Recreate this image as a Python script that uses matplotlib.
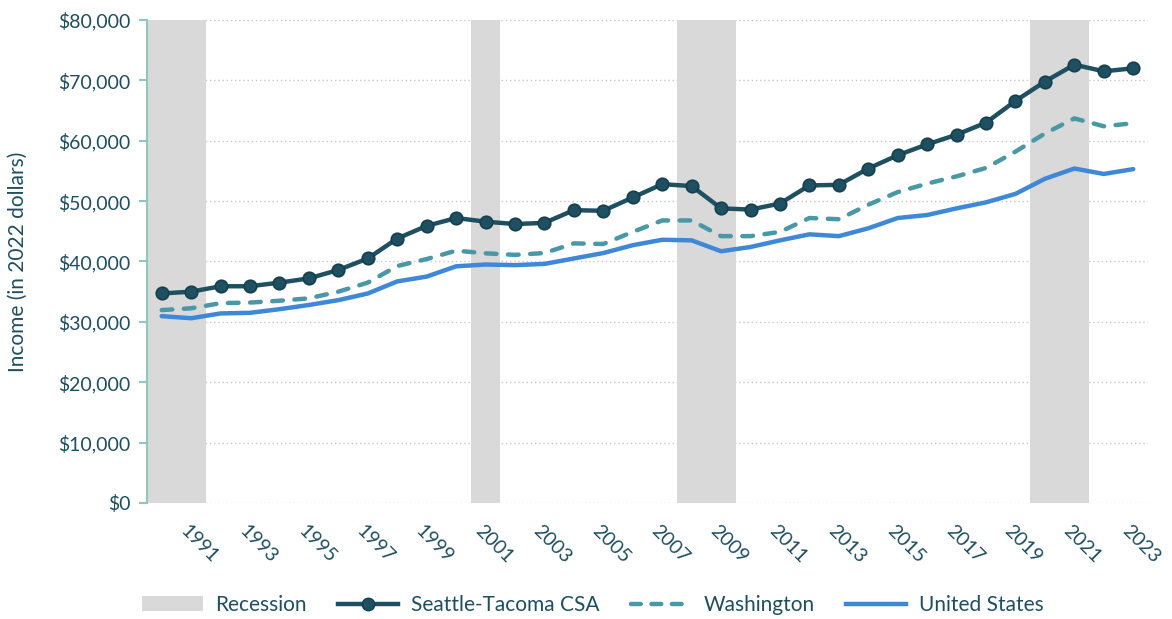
import matplotlib.pyplot as plt
import matplotlib.transforms as mtransforms
from matplotlib.patches import Patch
from matplotlib.lines import Line2D
from matplotlib.ticker import FuncFormatter

# Data (2022 dollars)
years = list(range(1990, 2024))
seattle = [34700, 35000, 35900, 35900, 36500, 37200, 38600, 40500, 43800, 45900,
           47200, 46600, 46200, 46400, 48500, 48400, 50600, 52800, 52500, 48800,
           48600, 49600, 52600, 52700, 55400, 57600, 59400, 61000, 63000, 66600,
           69800, 72600, 71500, 72000]
washington = [31950, 32250, 33100, 33200, 33500, 33900, 35000, 36500, 39250, 40400,
              41800, 41350, 41100, 41400, 43000, 42900, 44900, 46800, 46800, 44200,
              44200, 44900, 47200, 47000, 49400, 51500, 52900, 54100, 55500, 58200,
              61200, 63700, 62400, 62900]
united_states = [30950, 30600, 31400, 31500, 32100, 32800, 33600, 34700, 36700, 37500,
                 39200, 39500, 39400, 39600, 40500, 41400, 42700, 43600, 43500, 41700,
                 42400, 43500, 44500, 44200, 45500, 47200, 47700, 48800, 49800, 51200,
                 53700, 55400, 54500, 55300]
recession_years = [1990, 1991, 2001, 2008, 2009, 2020, 2021]
recession_height = 80000
tick_years = list(range(1991, 2024, 2))

text_color = '#1F4E5F'
dash = (0, (2.4, 2.6))
plt.rcParams['font.family'] = ['Lato', 'DejaVu Sans']

fig = plt.figure(figsize=(11.72, 6.19), dpi=100)
ax = fig.add_axes([0.1254, 0.1874, 0.8541, 0.7803])

ax.bar(recession_years, [recession_height] * len(recession_years), width=1.0,
       color='#D9D9D9', zorder=1)
ax.plot(years, united_states, color='#3F88D8', lw=3.2, solid_capstyle='round', zorder=3)
ax.plot(years, washington, color='#4A98A6', lw=3.2, ls=dash,
        dash_capstyle='round', zorder=3)
ax.plot(years, seattle, color='#1F5061', lw=3.2, marker='o', markersize=9,
        markerfacecolor='#1F5061', markeredgecolor='#163F4D', markeredgewidth=1.2,
        zorder=4)

ax.set_xlim(1989.5, 2023.5)
ax.set_ylim(0, 80000)
ax.set_yticks(range(0, 80001, 10000))
ax.yaxis.set_major_formatter(FuncFormatter(lambda v, p: f'${v:,.0f}'))
ax.yaxis.grid(True, color='#C8C8C8', ls=(0, (1, 2)), lw=1, zorder=0)
ax.set_axisbelow(True)

for s in ['top', 'right', 'bottom']:
    ax.spines[s].set_visible(False)
ax.spines['left'].set_color('#8CC8C0')
ax.spines['left'].set_linewidth(1.5)

ax.tick_params(axis='y', colors='#8CC8C0', length=6, width=1.5, labelsize=14,
               labelcolor=text_color, pad=6)
ax.set_xticks(tick_years)
ax.set_xticklabels([str(y) for y in tick_years], rotation=-45, ha='left', va='top',
                   rotation_mode='anchor')
ax.tick_params(axis='x', length=0, labelsize=14, labelcolor=text_color, pad=14)
offset = mtransforms.ScaledTranslation(-2 / 100, 0, fig.dpi_scale_trans)
for lbl in ax.get_xticklabels():
    lbl.set_transform(lbl.get_transform() + offset)

ax.set_ylabel('Income (in 2022 dollars)', fontsize=15, color=text_color, labelpad=22)

handles = [
    Patch(facecolor='#D9D9D9', edgecolor='none'),
    Line2D([], [], color='#1F5061', lw=3.2, marker='o', markersize=9,
           markerfacecolor='#1F5061', markeredgecolor='#163F4D'),
    Line2D([], [], color='#4A98A6', lw=3.2, ls=(0, (2.2, 2.4)), dash_capstyle='round'),
    Line2D([], [], color='#3F88D8', lw=3.2),
]
labels = ['Recession', 'Seattle-Tacoma CSA', 'Washington', 'United States']
leg = fig.legend(handles, labels, loc='center', bbox_to_anchor=(593 / 1172, 1 - 605 / 619),
                 ncol=4, frameon=False, fontsize=15, handlelength=2.9,
                 columnspacing=1.5, handletextpad=0.6, labelcolor=text_color)

fig.savefig('out.png', dpi=100)
